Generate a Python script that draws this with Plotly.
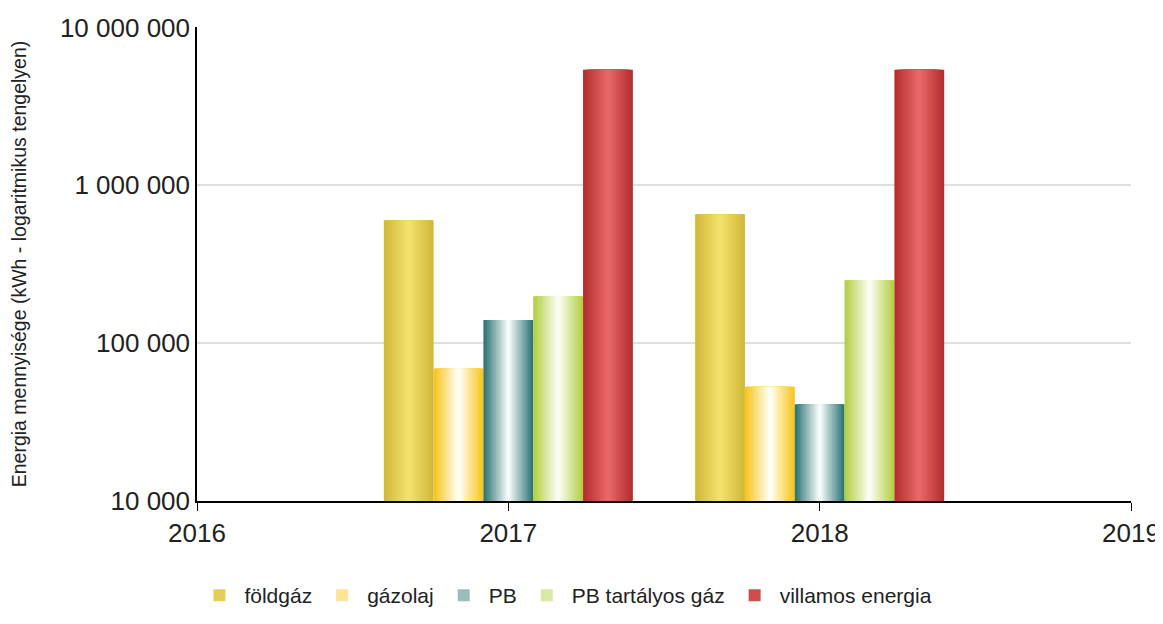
import plotly.graph_objects as go

years = [2017, 2018]
series_names = ["földgáz", "gázolaj", "PB", "PB tartályos gáz", "villamos energia"]
foldgaz = [600000, 655000]
gazolaj = [69000, 53000]
pb = [140000, 41000]
pb_tartalyos = [198000, 250000]
villamos = [5400000, 5400000]
x_ticks = [2016, 2017, 2018, 2019]
y_ticks = [10000, 100000, 1000000, 10000000]

values = [foldgaz, gazolaj, pb, pb_tartalyos, villamos]
edge_colors = [(210, 185, 58), (247, 197, 30), (47, 117, 116), (178, 207, 69), (181, 46, 48)]
center_colors = [(242, 226, 108), (255, 254, 245), (245, 250, 250), (251, 253, 242), (232, 103, 103)]

FONT = "Liberation Sans, Arial, sans-serif"

fig = go.Figure()
bar_w = 0.16
N = 14
for i, (name, vals) in enumerate(zip(series_names, values)):
    center_off = -0.4 + bar_w * i + bar_w / 2
    e, c = edge_colors[i], center_colors[i]
    for k in range(N):
        t = k / (N - 1)
        w = bar_w * (1 - k / N)
        col = tuple(int(round(e[j] + (c[j] - e[j]) * t)) for j in range(3))
        fig.add_trace(go.Bar(
            x=years, y=vals, name=name,
            width=w, offset=center_off - w / 2,
            marker=dict(color="rgb(%d,%d,%d)" % col, line=dict(width=0)),
            legendgroup=name, showlegend=(k == N // 2),
            hoverinfo="skip" if k else None,
        ))

fig.update_layout(
    barmode="overlay",
    width=1155, height=608,
    margin=dict(l=189, r=32, t=19, b=115),
    paper_bgcolor="white", plot_bgcolor="white",
    separators=", ",
    font=dict(family=FONT, color="#222222", size=22),
    legend=dict(orientation="h", x=0.395, xanchor="center",
                yref="container", y=-0.02, yanchor="bottom",
                font=dict(size=21, family=FONT), itemwidth=40, traceorder="normal"),
    xaxis=dict(type="linear", range=[2016, 2019], tickvals=x_ticks, tickformat="d",
               showline=True, linecolor="black", linewidth=1.5, ticks="outside",
               ticklen=8, tickcolor="black", showgrid=False, zeroline=False,
               tickfont=dict(size=26), automargin=False),
    yaxis=dict(type="log", range=[4, 7.003], tickvals=y_ticks, tickformat=",d",
               showline=True, linecolor="black", linewidth=1.5, ticks="",
               showgrid=True, gridcolor="#e0e0e0", gridwidth=1.5, zeroline=False,
               tickfont=dict(size=26), automargin=False,
               title=dict(text="Energia mennyisége (kWh - logaritmikus tengelyen)",
                          font=dict(size=19.5), standoff=30)),
)

fig.write_html("out.html")
